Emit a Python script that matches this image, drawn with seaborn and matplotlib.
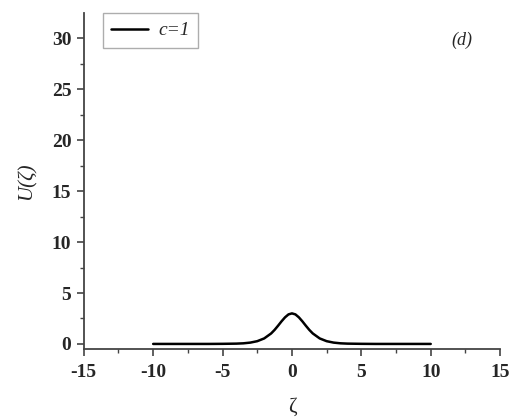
import numpy as np
import pandas as pd
import seaborn as sns
import matplotlib.pyplot as plt

# values
zeta = [-10, -8, -6, -5, -4, -3.5, -3, -2.5, -2, -1.5, -1.25, -1, -0.75, -0.5, -0.25, 0,
        0.25, 0.5, 0.75, 1, 1.25, 1.5, 2, 2.5, 3, 3.5, 4, 5, 6, 8, 10]
u_vals = [0.0, 0.0, 0.0, 0.01, 0.03, 0.06, 0.13, 0.27, 0.54, 1.03, 1.38, 1.79, 2.22, 2.61, 2.90, 3.0,
          2.90, 2.61, 2.22, 1.79, 1.38, 1.03, 0.54, 0.27, 0.13, 0.06, 0.03, 0.01, 0.0, 0.0, 0.0]
series_label = "c=1"

df = pd.DataFrame({"zeta": zeta, "U": u_vals, "series": series_label})

sns.set_style("ticks")
plt.rcParams['font.family'] = ['Liberation Serif', 'DejaVu Serif']

fig = plt.figure(figsize=(5.14, 4.2), dpi=100)
ax = fig.add_axes([0.163, 0.169, 0.81, 0.8])

sns.lineplot(data=df, x="zeta", y="U", hue="series", palette=["black"],
             linewidth=1.8, ax=ax, legend=True)

ax.set_xlim(-15, 15)
ax.set_ylim(-0.5, 32.5)
ax.set_xticks(np.arange(-15, 16, 5))
ax.set_yticks(np.arange(0, 31, 5))
ax.set_xticks(np.arange(-12.5, 15, 5), minor=True)
ax.set_yticks(np.arange(2.5, 32.5, 5), minor=True)
ax.set_xticklabels([f"{int(v)}" for v in np.arange(-15, 16, 5)])

for sp in ["top", "right"]:
    ax.spines[sp].set_visible(False)
for sp in ["left", "bottom"]:
    ax.spines[sp].set_color("#444444")
    ax.spines[sp].set_linewidth(1.3)

ax.tick_params(which="major", direction="out", length=5, width=1.2, color="#444444",
               labelsize=14, pad=4)
ax.tick_params(axis="x", which="major", pad=6)
ax.tick_params(which="minor", direction="out", length=3, width=1.0, color="#444444")
for lab in ax.get_xticklabels() + ax.get_yticklabels():
    lab.set_fontweight("bold")

ax.set_xlabel("ζ", fontsize=15, labelpad=12)
ax.set_ylabel("U(ζ)", fontsize=15, fontstyle="italic", labelpad=11)

leg = ax.legend(loc="upper left", bbox_to_anchor=(0.045, 1.0), frameon=True,
                fancybox=False, edgecolor="#999999", handlelength=1.9,
                handletextpad=0.5, borderpad=0.45,
                prop={"style": "italic", "size": 14}, borderaxespad=0.0)
leg.get_frame().set_linewidth(1.0)

ax.text(0.909, 0.92, "(d)", transform=ax.transAxes, fontsize=13, fontstyle="italic",
        ha="center", va="center")

fig.savefig("out.png", dpi=100)
